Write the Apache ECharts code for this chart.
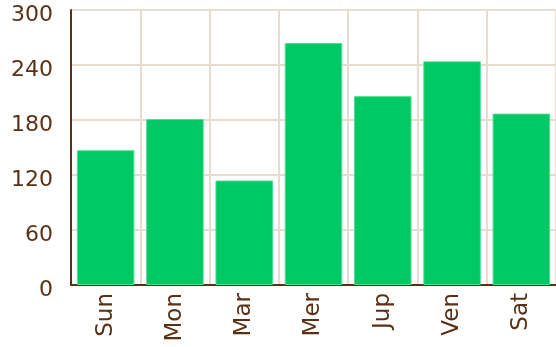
<!DOCTYPE html>
<html>
<head>
<meta charset="utf-8">
<script src="https://cdn.jsdelivr.net/npm/echarts@6/dist/echarts.min.js"></script>
<style>
  html, body { margin: 0; padding: 0; background: #ffffff; }
  #chart { width: 556px; height: 347px; }
</style>
</head>
<body>
<div id="chart"></div>
<script>
// Weekday totals
const days = ['Sun', 'Mon', 'Mar', 'Mer', 'Jup', 'Ven', 'Sat'];
const totals = [147, 181, 114, 264, 206, 244, 187];
const yTicks = { min: 0, max: 300, step: 60 };

const brown = '#5b3116';
const gridColor = '#e8dccf';
const font = '"DejaVu Sans", sans-serif';

const chart = echarts.init(document.getElementById('chart'), null, { renderer: 'canvas' });
chart.setOption({
  animation: false,
  backgroundColor: '#ffffff',
  grid: { left: 71, right: -5, top: 10, bottom: 62, containLabel: false },
  xAxis: {
    type: 'category',
    data: days,
    axisLine: { show: true, lineStyle: { color: brown, width: 2 } },
    axisTick: { show: false },
    splitLine: { show: true, lineStyle: { color: gridColor, width: 2 } },
    axisLabel: {
      rotate: 90,
      color: brown,
      fontFamily: font,
      fontSize: 23,
      margin: 8
    }
  },
  yAxis: {
    type: 'value',
    min: yTicks.min,
    max: yTicks.max,
    interval: yTicks.step,
    axisLine: { show: true, lineStyle: { color: brown, width: 2 } },
    axisTick: { show: false },
    splitLine: { show: true, lineStyle: { color: gridColor, width: 2 } },
    axisLabel: {
      color: brown,
      fontFamily: font,
      fontSize: 22,
      margin: 18,
      verticalAlign: 'top',
      lineHeight: 11
    }
  },
  series: [{
    type: 'bar',
    data: totals,
    barCategoryGap: '17%',
    itemStyle: { color: '#00c864', borderColor: '#4fdc92', borderWidth: 1 }
  }]
});
</script>
</body>
</html>
